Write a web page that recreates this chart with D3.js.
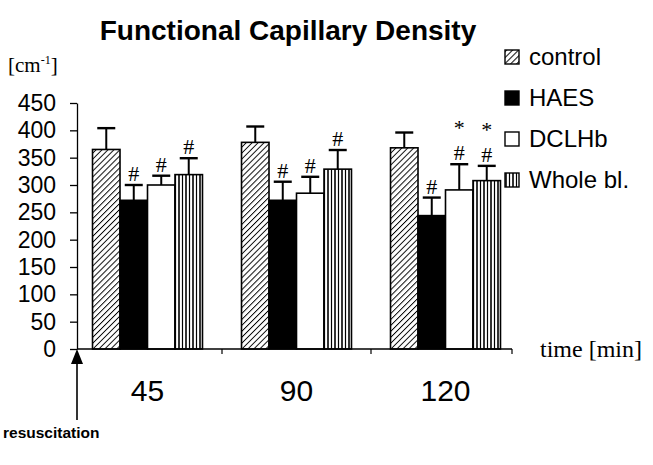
<!DOCTYPE html>
<html>
<head>
<meta charset="utf-8">
<script src="https://cdn.jsdelivr.net/npm/d3@7"></script>
<style>
  html, body { margin: 0; padding: 0; background: #fff; }
  svg { display: block; }
</style>
</head>
<body>
<svg id="chart" width="653" height="465"></svg>
<script>
// ---- data ----
const categories = ["45", "90", "120"];
const seriesNames = ["control", "HAES", "DCLHb", "Whole bl."];
const controlValues = [365, 378, 368];
const haesValues = [272, 272, 244];
const dclhbValues = [300, 285, 291];
const wholeValues = [319, 329, 308];
const controlErr = [39, 29, 28];
const haesErr = [28, 34, 33];
const dclhbErr = [17, 30, 47];
const wholeErr = [30, 35, 27];
const hashMarks = [[false, true, true, true], [false, true, true, true], [false, true, true, true]];
const starMarks = [[false, false, false, false], [false, false, false, false], [false, false, true, true]];
const yTicks = [0, 50, 100, 150, 200, 250, 300, 350, 400, 450];

const values = [controlValues, haesValues, dclhbValues, wholeValues];
const errs = [controlErr, haesErr, dclhbErr, wholeErr];

const svg = d3.select("#chart");
const defs = svg.append("defs");

// diagonal hatch
const diag = defs.append("pattern").attr("id", "diag").attr("patternUnits", "userSpaceOnUse")
  .attr("width", 4.2).attr("height", 4.2).attr("patternTransform", "rotate(45)");
diag.append("rect").attr("width", 4.2).attr("height", 4.2).attr("fill", "#fff");
diag.append("line").attr("x1", 0).attr("y1", 0).attr("x2", 0).attr("y2", 4.2)
  .attr("stroke", "#000").attr("stroke-width", 1.9);

// vertical lines
const vert = defs.append("pattern").attr("id", "vert").attr("patternUnits", "userSpaceOnUse")
  .attr("width", 7).attr("height", 10);
vert.append("rect").attr("width", 7).attr("height", 10).attr("fill", "#fff");
vert.append("line").attr("x1", 1).attr("y1", 0).attr("x2", 1).attr("y2", 10).attr("stroke", "#000").attr("stroke-width", 1.6);
vert.append("line").attr("x1", 4.5).attr("y1", 0).attr("x2", 4.5).attr("y2", 10).attr("stroke", "#000").attr("stroke-width", 1.2);

const fills = ["url(#diag)", "#000", "#fff", "url(#vert)"];

const axisX = 77;
const y = d3.scaleLinear().domain([0, 450]).range([349, 103]);
const x0 = d3.scaleBand().domain(categories).range([73, 520]).padding(0);
const x1 = d3.scaleBand().domain(seriesNames).range([0, x0.bandwidth()]).paddingInner(0).paddingOuter(0.71);

const sans = "Liberation Sans, Arial, sans-serif";
const serif = "Liberation Serif, Times New Roman, serif";

// title
svg.append("text").attr("x", 288).attr("y", 40).attr("text-anchor", "middle")
  .attr("font-family", sans).attr("font-weight", "bold")
  .attr("font-size", 28).text("Functional Capillary Density");

// unit label
const unit = svg.append("text").attr("x", 8).attr("y", 72)
  .attr("font-family", serif).attr("font-size", 21);
unit.append("tspan").text("[cm");
unit.append("tspan").attr("font-size", 12).attr("dy", -8).text("-1");
unit.append("tspan").attr("dy", 8).text("]");

// y axis
const yAxis = svg.append("g").attr("transform", `translate(${axisX},0)`)
  .call(d3.axisLeft(y).tickValues(yTicks).tickSize(7).tickSizeOuter(0).tickPadding(14));
yAxis.select(".domain").attr("stroke", "#000").attr("stroke-width", 1.3);
yAxis.selectAll(".tick line").attr("stroke", "#000").attr("stroke-width", 1.3);
yAxis.selectAll(".tick text").attr("font-family", sans)
  .attr("font-size", 23).attr("fill", "#000");

// bars
const groups = svg.append("g").selectAll("g").data(categories).join("g")
  .attr("transform", d => `translate(${x0(d)},0)`);

groups.each(function(cat, ci) {
  const g = d3.select(this);
  seriesNames.forEach((s, si) => {
    const v = values[si][ci];
    const e = errs[si][ci];
    const bx = x1(s);
    const bw = x1.bandwidth();
    g.append("rect").attr("x", bx).attr("y", y(v)).attr("width", bw).attr("height", y(0) - y(v))
      .attr("fill", fills[si]).attr("stroke", "#000").attr("stroke-width", 1.6);
    const cx = bx + bw / 2;
    g.append("line").attr("x1", cx).attr("x2", cx).attr("y1", y(v)).attr("y2", y(v + e))
      .attr("stroke", "#000").attr("stroke-width", 2);
    g.append("line").attr("x1", cx - 9).attr("x2", cx + 9).attr("y1", y(v + e)).attr("y2", y(v + e))
      .attr("stroke", "#000").attr("stroke-width", 2.4);
    if (hashMarks[ci][si]) {
      g.append("text").attr("x", cx).attr("y", y(v + e) - 4).attr("text-anchor", "middle")
        .attr("font-family", serif).attr("font-size", 22).text("#");
    }
    if (starMarks[ci][si]) {
      g.append("text").attr("x", cx).attr("y", y(v + e) - 29).attr("text-anchor", "middle")
        .attr("font-family", serif).attr("font-size", 22).text("*");
    }
  });
});

// x axis
const xEnd = 512;
svg.append("line").attr("x1", axisX).attr("x2", xEnd).attr("y1", y(0)).attr("y2", y(0))
  .attr("stroke", "#000").attr("stroke-width", 1.5);
const tickXs = [x0("90"), x0("120"), xEnd];
svg.append("g").selectAll("line").data(tickXs).join("line")
  .attr("x1", d => d).attr("x2", d => d).attr("y1", y(0)).attr("y2", y(0) + 5)
  .attr("stroke", "#000").attr("stroke-width", 1.2);

// category labels
svg.append("g").selectAll("text").data(categories).join("text")
  .attr("x", d => x0(d) + x0.bandwidth() / 2).attr("y", 401).attr("text-anchor", "middle")
  .attr("font-family", sans).attr("font-size", 30).text(d => d);

svg.append("text").attr("x", 540).attr("y", 357)
  .attr("font-family", serif).attr("font-size", 24).text("time [min]");

// resuscitation arrow
svg.append("line").attr("x1", axisX).attr("x2", axisX).attr("y1", y(0) + 12).attr("y2", 420)
  .attr("stroke", "#000").attr("stroke-width", 1.6);
svg.append("path").attr("d", `M${axisX},${y(0)} L${axisX - 6},${y(0) + 15} L${axisX + 6},${y(0) + 15} Z`).attr("fill", "#000");
svg.append("text").attr("x", 3).attr("y", 438)
  .attr("font-family", sans).attr("font-weight", "bold")
  .attr("font-size", 15.5).text("resuscitation");

// legend
const legend = svg.append("g").selectAll("g").data(seriesNames).join("g")
  .attr("transform", (d, i) => `translate(505,${57 + i * 41})`);
legend.append("rect").attr("x", 0).attr("y", -7).attr("width", 14).attr("height", 14)
  .attr("fill", (d, i) => fills[i]).attr("stroke", "#000").attr("stroke-width", 1.4);
legend.append("text").attr("x", 24).attr("y", 8)
  .attr("font-family", sans).attr("font-size", 24).text(d => d);
</script>
</body>
</html>
